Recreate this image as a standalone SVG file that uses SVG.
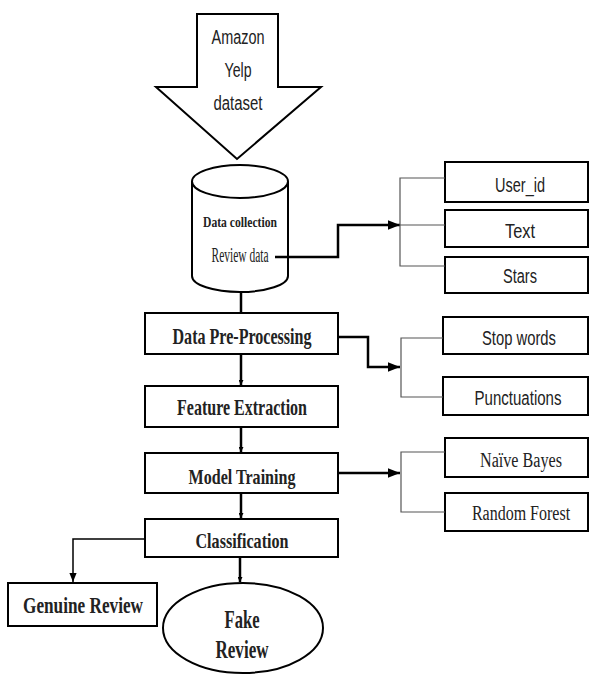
<svg xmlns="http://www.w3.org/2000/svg" width="590" height="675" viewBox="0 0 590 675">
<style>
.box{fill:#fff;stroke:#000;stroke-width:2}
.shape{fill:#fff;stroke:#000;stroke-width:2}
.main{fill:none;stroke:#000;stroke-width:2.5}
.thin{fill:none;stroke:#000;stroke-width:1.5}
.br{fill:none;stroke:#555;stroke-width:1.2}
.sans{font-family:"Liberation Sans",Arial,sans-serif;font-size:20px;fill:#222}
.serif{font-family:"Liberation Serif","Times New Roman",serif;font-size:20px;fill:#222}
.bold{font-family:"Liberation Serif","Times New Roman",serif;font-weight:bold;fill:#222}
</style>
<defs>
<marker id="ah" viewBox="0 0 10 10" refX="10" refY="5" markerWidth="5" markerHeight="5" orient="auto" markerUnits="userSpaceOnUse">
<path d="M0,0 L10,5 L0,10 z" fill="#000"/>
</marker>
<marker id="ahb" viewBox="0 0 10 10" refX="10" refY="5" markerWidth="12" markerHeight="12" orient="auto" markerUnits="userSpaceOnUse">
<path d="M0,1 L10,5 L0,9 z" fill="#000"/>
</marker>
<marker id="ahm" viewBox="0 0 10 10" refX="10" refY="5" markerWidth="9" markerHeight="9" orient="auto" markerUnits="userSpaceOnUse">
<path d="M0,1 L10,5 L0,9 z" fill="#000"/>
</marker>
</defs>

<g id="dataset">
<polygon class="shape" points="197,14 278,14 278,87 321,87 237,159 156,87 197,87"/>
<text class="sans" x="238" y="44" text-anchor="middle" textLength="53" lengthAdjust="spacingAndGlyphs">Amazon</text>
<text class="sans" x="238" y="77" text-anchor="middle" textLength="27" lengthAdjust="spacingAndGlyphs">Yelp</text>
<text class="sans" x="238" y="110" text-anchor="middle" textLength="49" lengthAdjust="spacingAndGlyphs">dataset</text>
</g>

<g id="data-collection">
<path class="shape" d="M192,181.5 L192,276 A48,16 0 0 0 288,276 L288,181.5"/>
<ellipse class="shape" cx="240" cy="181.5" rx="48" ry="16.5"/>
<text class="bold" x="240" y="227" font-size="15" text-anchor="middle" textLength="74" lengthAdjust="spacingAndGlyphs">Data collection</text>
<text class="serif" x="240" y="262" font-size="15" text-anchor="middle" textLength="57" lengthAdjust="spacingAndGlyphs">Review data</text>
</g>

<g id="user-id"><rect class="box" x="445" y="162" width="143" height="40"/>
<text class="sans" x="520" y="192" text-anchor="middle" textLength="50" lengthAdjust="spacingAndGlyphs">User_id</text></g>
<g id="text"><rect class="box" x="445" y="210" width="143" height="37"/>
<text class="sans" x="520" y="238" text-anchor="middle" textLength="30" lengthAdjust="spacingAndGlyphs">Text</text></g>
<g id="stars"><rect class="box" x="445" y="257" width="143" height="36"/>
<text class="sans" x="520" y="283" text-anchor="middle" textLength="34" lengthAdjust="spacingAndGlyphs">Stars</text></g>

<g id="pre-processing"><rect class="box" x="145" y="313" width="193" height="41"/>
<text class="bold" x="242" y="344" font-size="23" text-anchor="middle" textLength="139" lengthAdjust="spacingAndGlyphs">Data Pre-Processing</text></g>

<g id="stop-words"><rect class="box" x="443" y="317" width="145" height="37"/>
<text class="sans" x="519" y="345" text-anchor="middle" textLength="74" lengthAdjust="spacingAndGlyphs">Stop words</text></g>
<g id="punctuations"><rect class="box" x="443" y="377" width="145" height="38"/>
<text class="sans" x="518" y="405" text-anchor="middle" textLength="87" lengthAdjust="spacingAndGlyphs">Punctuations</text></g>

<g id="feature-extraction"><rect class="box" x="145" y="386" width="193" height="41"/>
<text class="bold" x="242" y="415" font-size="23" text-anchor="middle" textLength="130" lengthAdjust="spacingAndGlyphs">Feature Extraction</text></g>

<g id="model-training"><rect class="box" x="145" y="453" width="193" height="40"/>
<text class="bold" x="242" y="484" font-size="22" text-anchor="middle" textLength="107" lengthAdjust="spacingAndGlyphs">Model Training</text></g>

<g id="naive-bayes"><rect class="box" x="445" y="438" width="143" height="39"/>
<text class="serif" x="521" y="467" text-anchor="middle" textLength="82" lengthAdjust="spacingAndGlyphs">Naïve Bayes</text></g>
<g id="random-forest"><rect class="box" x="445" y="493" width="143" height="38"/>
<text class="serif" x="0" y="0" text-anchor="middle" transform="translate(521,520) scale(0.8,1)">Random Forest</text></g>

<g id="classification"><rect class="box" x="145" y="519" width="193" height="38"/>
<text class="bold" x="242" y="548" font-size="22" text-anchor="middle" textLength="93" lengthAdjust="spacingAndGlyphs">Classification</text></g>

<g id="genuine-review"><rect class="box" x="8" y="583" width="149" height="43"/>
<text class="bold" x="83" y="613" font-size="23" text-anchor="middle" textLength="120" lengthAdjust="spacingAndGlyphs">Genuine Review</text></g>

<g id="fake-review"><ellipse class="shape" cx="243" cy="628" rx="80" ry="45"/>
<text class="bold" x="242" y="628" font-size="26" text-anchor="middle" textLength="35" lengthAdjust="spacingAndGlyphs">Fake</text>
<text class="bold" x="242" y="658" font-size="26" text-anchor="middle" textLength="53" lengthAdjust="spacingAndGlyphs">Review</text></g>

<g id="connectors">
<path class="main" d="M241,292 L241,313"/>
<path class="main" d="M241,354 L241,385" marker-end="url(#ah)"/>
<path class="main" d="M241,427 L241,452" marker-end="url(#ah)"/>
<path class="main" d="M241,493 L241,518" marker-end="url(#ah)"/>
<path class="main" d="M240,557 L240,582" marker-end="url(#ah)"/>
<path class="thin" d="M145,539 L73,539 L73,582" marker-end="url(#ahm)"/>
<path class="main" d="M275,257 L338,257 L338,225 L400,225" marker-end="url(#ahb)"/>
<path class="main" d="M338,337 L368,337 L368,367 L400,367" marker-end="url(#ahb)"/>
<path class="main" d="M338,473 L400,473" marker-end="url(#ahb)"/>
<path class="br" d="M445,178 L400,178 L400,266 L445,266 M400,225 L445,225"/>
<path class="br" d="M443,338 L401,338 L401,397 L443,397"/>
<path class="br" d="M445,452 L401,452 L401,512 L445,512"/>
</g>
</svg>
